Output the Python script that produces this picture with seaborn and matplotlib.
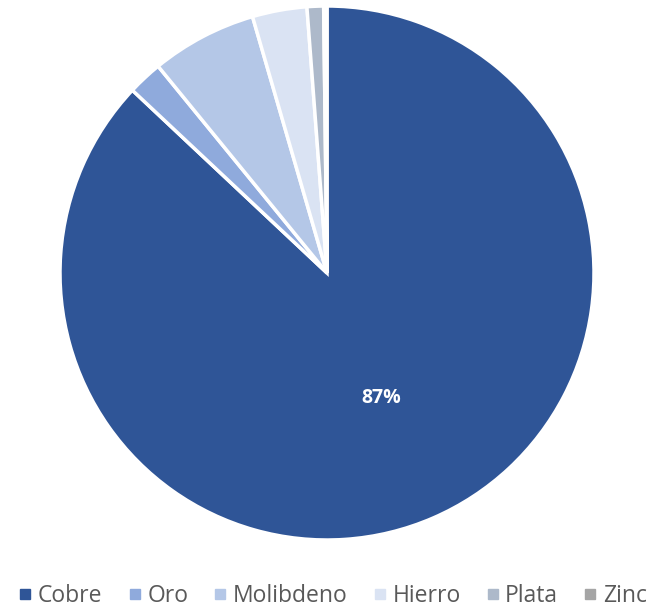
import matplotlib
matplotlib.use("Agg")
import matplotlib.pyplot as plt
import seaborn as sns
from matplotlib.lines import Line2D

categories = ["Cobre", "Oro", "Molibdeno", "Hierro", "Plata", "Zinc"]
values = [87.0, 2.1, 6.4, 3.3, 1.0, 0.2]
colors = ["#2F5597", "#8FAADC", "#B4C7E7", "#DAE3F3", "#ADB9CA", "#A5A5A5"]

sns.set_theme(style="white")
plt.rcParams['font.family'] = ['Open Sans', 'DejaVu Sans']

fig = plt.figure(figsize=(6.54, 6.07), dpi=100)
ax = fig.add_axes([60/654, (607-540)/607, 534/654, 534/607])

wedges, texts, autotexts = ax.pie(
    values, colors=colors, startangle=90, counterclock=False, radius=1,
    autopct=lambda p: f"{p:.0f}%" if p > 50 else "", pctdistance=0.51,
    wedgeprops=dict(edgecolor="white", linewidth=2.5),
    textprops=dict(color="white", fontsize=14, fontweight="bold"))
ax.set_xlim(-1, 1)
ax.set_ylim(-1, 1)
ax.axis("off")

handles = [Line2D([0], [0], marker="s", linestyle="", markersize=7.5,
                  markerfacecolor=c, markeredgecolor=c) for c in colors]
fig.legend(handles, categories, loc="center", bbox_to_anchor=(331/654, 1 - 596/607),
           ncol=6, frameon=False, fontsize=16.5, handletextpad=0.1,
           columnspacing=0.95, handlelength=0.9, labelcolor="#595959")

fig.savefig("out.png", dpi=100)
